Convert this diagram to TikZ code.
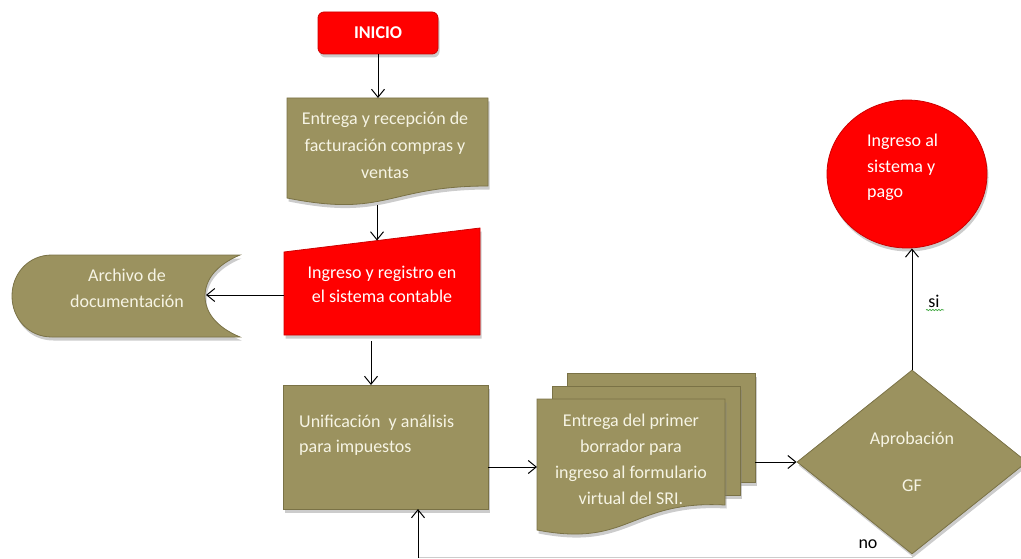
\documentclass[tikz,border=0pt]{standalone}
\usepackage{fontspec}
\setmainfont{Carlito}
\usetikzlibrary{arrows.meta,shadows,shapes.geometric,decorations.pathmorphing}

\definecolor{olivefill}{RGB}{155,146,95}
\definecolor{oliveedge}{RGB}{122,114,70}
\definecolor{redfill}{RGB}{255,0,0}
\definecolor{rededge}{RGB}{205,0,0}
\definecolor{lighttext}{RGB}{246,244,228}
\definecolor{spellgreen}{RGB}{70,170,70}

\begin{document}
\begin{tikzpicture}[x=1pt,y=-1pt,
  font=\fontsize{18}{26.5}\selectfont,
  softshadow/.style={drop shadow={shadow xshift=1.5pt,shadow yshift=-3.5pt,opacity=0.4}},
  olivebox/.style={fill=olivefill,draw=oliveedge,line width=0.8pt,softshadow},
  redbox/.style={fill=redfill,draw=rededge,line width=0.8pt,softshadow},
  area/.style={rectangle,inner sep=0pt,outer sep=0pt},
  txt/.style={text=lighttext,align=center,inner sep=0pt},
  flow/.style={draw=black,line width=1pt,-{Straight Barb[length=8pt,width=13pt]}}
]
\useasboundingbox (0,0) rectangle (1021,559);
\clip (0,0) rectangle (1021,559);

% ---------- shapes ----------
% document: receipt of invoices
\path[olivebox] (287,98) -- (488,98) -- (488,186)
  .. controls (387,186) and (387,218) .. (287,198) -- cycle;
% manual input: accounting entry
\path[redbox] (284,252) -- (480,228) -- (480,335) -- (284,335) -- cycle;
% stored data: archive
\path[olivebox] (240,255) -- (52,255)
  .. controls (28,255) and (12,274) .. (12,296)
  .. controls (12,318) and (28,337) .. (52,337) -- (240,337)
  .. controls (216,327) and (205,312) .. (205,296)
  .. controls (205,280) and (216,265) .. (240,255) -- cycle;
% process: unification
\path[olivebox] (283,385) rectangle (488,509);
% multi-document
\path[olivebox] (567,373) rectangle (755,482);
\path[olivebox] (552,386) rectangle (740,495);
\path[olivebox] (537,399) -- (725,399) -- (725,505)
  .. controls (630,500) and (630,548) .. (537,530) -- cycle;

% ---------- nodes ----------
\node[area,rounded corners=6pt,redbox,minimum width=120,minimum height=42,
  text=white,font=\fontsize{18}{22}\selectfont\bfseries] (inicio) at (378,33) {INICIO};

\node[area,minimum width=201,minimum height=107] (doc1) at (387.5,151.5) {};
\node[txt,font=\fontsize{18}{27}\selectfont] (doc1-text) at (385,145)
  {Entrega y recepción de\\facturación compras y\\ventas};

\node[area,minimum width=196,minimum height=107] (input) at (382,281.5) {};
\node[txt,text=white,font=\fontsize{18}{24}\selectfont] (input-text) at (382,284)
  {Ingreso y registro en\\el sistema contable};

\node[area,minimum width=228,minimum height=82] (arch) at (126,296) {};
\coordinate (arch-in) at (206,295);
\node[txt,font=\fontsize{18}{26}\selectfont] (arch-text) at (127,288)
  {Archivo de\\documentación};

\node[area,minimum width=205,minimum height=124] (unif) at (385.5,447) {};
\node[txt,align=left,anchor=west,font=\fontsize{18}{25}\selectfont] (unif-text) at (299,435.5)
  {Unificación~ y análisis\\para impuestos};

\node[area,minimum width=218,minimum height=159] (mdoc) at (646,452.5) {};
\node[txt,font=\fontsize{18}{26}\selectfont] (mdoc-text) at (631,459)
  {Entrega del primer\\borrador para\\ingreso al formulario\\virtual del SRI.};

\node[diamond,olivebox,inner sep=0pt,minimum width=230,minimum height=184,
  text=lighttext,align=center] (dia) at (912,462) {Aprobación\\[20pt]GF};

\node[ellipse,redbox,inner sep=0pt,minimum width=160,minimum height=148] (pay) at (907,174) {};
\node[txt,text=white,align=left,anchor=west,font=\fontsize{18}{25.5}\selectfont]
  (pay-text) at (867,167.5) {Ingreso al\\sistema y\\pago};

\node[inner sep=0pt] (si) at (934,301) {si};
\node[inner sep=0pt] (no) at (868,544) {no};
\draw[spellgreen,line width=0.7pt,decorate,
  decoration={snake,amplitude=0.7pt,segment length=3pt}] (926,310) -- (944,310);

% ---------- connectors ----------
\draw[flow] (inicio.south) -- (inicio.south |- doc1.north);
\coordinate (input-in) at (377,240.5);
\draw[flow] ([xshift=-1pt]inicio.south |- doc1.south) -- (input-in);
\draw[flow] ([xshift=-11pt,yshift=-6pt]input.south) -- ([xshift=-11pt]input.south |- unif.north);
\draw[flow] ([yshift=-13.5pt]input.west) -- (arch-in);
\draw[flow] ([yshift=-20pt]unif.east) -- ([yshift=-20pt]unif.east -| mdoc.west);
\draw[flow] (mdoc.east |- dia.west) -- (dia.west);
\draw[flow] (dia.north) -- (dia.north |- pay.south);
\coordinate (loop) at (418,557.5);
\draw[gray!40,line width=1pt] (dia.south) -- (dia.south |- loop) -- (loop);
\draw[flow] (loop) -- (loop |- unif.south);
\end{tikzpicture}
\end{document}
